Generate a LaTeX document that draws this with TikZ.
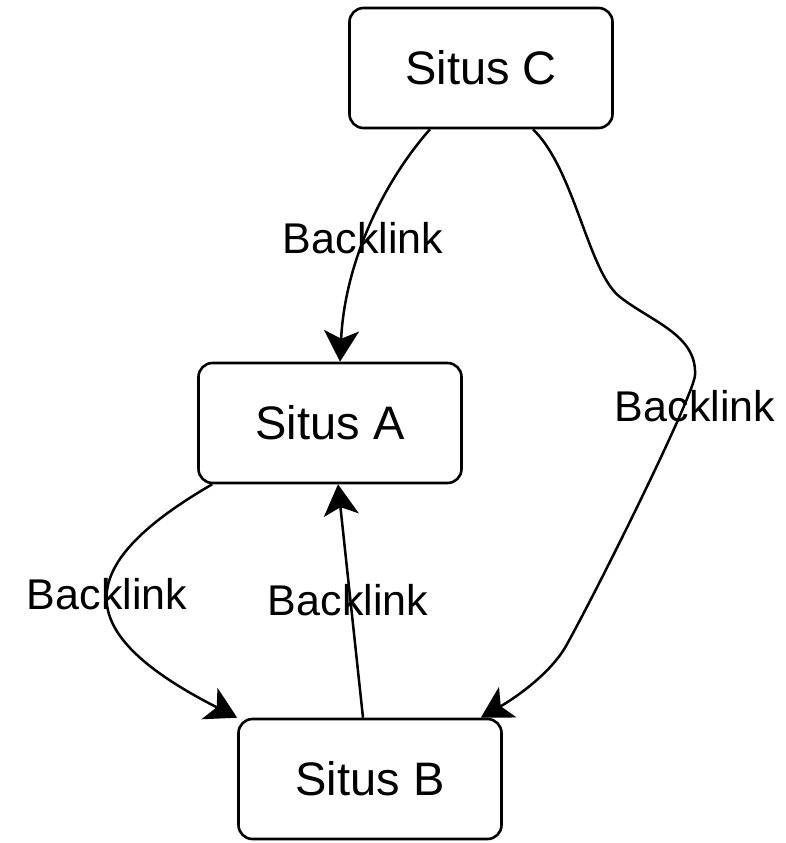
\documentclass[tikz,border=0pt]{standalone}
\usepackage{fontspec}
\setmainfont{Liberation Sans}
\usepackage{tikz}
\usetikzlibrary{arrows.meta}

\begin{document}
\begin{tikzpicture}
	[x=1pt,y=1pt,
	situs/.style={draw,line width=2.6pt,rounded corners=14pt,minimum width=263pt,minimum height=120pt,font=\fontsize{47}{56}\selectfont},
	backlink/.style={font=\fontsize{43}{52}\selectfont},
	link/.style={line width=2.5pt,-{Stealth[length=31pt,width=35pt,inset=8pt]}}]
	\useasboundingbox (0,0) rectangle (785,-843);
	% sites
	\node[situs] (C) at (481,-68) {Situs C};
	\node[situs] (A) at (330,-423) {Situs A};
	\node[situs] (B) at (370,-779) {Situs B};
	% labels
	\foreach \x/\y [count=\i] in {363/-238, 695/-406, 107/-594, 348/-600}
		\node[backlink] (lbl\i) at (\x,\y) {Backlink};
	% C to A
	\draw[link] ([xshift=-51pt]C.south) .. controls (385,-180) and (345,-260) .. ([xshift=10pt]A.north);
	% B to A
	\draw[link] ([xshift=-7pt]B.north) -- ([xshift=8pt]A.south);
	% A to B
	\draw[link] ([xshift=15pt]A.south west) .. controls (66,-569) and (75,-635) .. (B.north west);
	% C to B
	\draw[link] ([xshift=52pt]C.south) .. controls (575,-170) and (588,-272) .. (620,-297)
		.. controls (652,-322) and (697,-335) .. (695,-375)
		.. controls (694,-395) and (600,-585) .. (566,-646)
		.. controls (550,-674) and (515,-698) .. ([xshift=-22pt]B.north east);
\end{tikzpicture}
\end{document}
